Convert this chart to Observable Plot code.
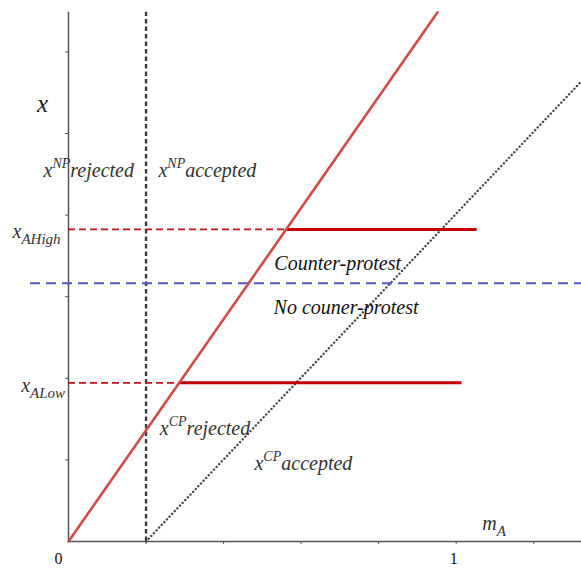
<!DOCTYPE html>
<html>
<head>
<meta charset="utf-8">
<script src="https://cdn.jsdelivr.net/npm/d3@7"></script>
<script src="https://cdn.jsdelivr.net/npm/@observablehq/plot@0.6"></script>
<style>
  html, body { margin: 0; padding: 0; background: #fff; }
  svg { display: block; }
</style>
</head>
<body>
<div id="chart"></div>
<script>
// ---- data ----
const xDomain = [-0.1754, 1.3232];      // m_A
const yDomain = [-0.076, 1.326];        // x
const axisTop = 1.297;                  // top of the x axis line
const xTicks = [0.2, 0.4, 0.6, 0.8, 1.0, 1.2];
const yTicks = [0.2, 0.4, 0.6, 0.8, 1.0, 1.2];
const tickLabels = [{m: -0.026, x: -0.043, text: "0"}, {m: 0.994, x: -0.042, text: "1"}];

const npCut = 0.2;                                      // vertical dashed line
const diagonal = [{m: 0, x: 0}, {m: 0.952, x: 1.297}];  // red solid line
const boundary = [{m: 0.2, x: 0}, {m: 1.323, x: 1.128}];// dotted line
const neutral = {x: 0.633, from: -0.098, to: 1.323};    // blue dashed line
const thresholdNames = ["AHigh", "ALow"];
const thresholdLevels = [0.765, 0.389];
const thresholdCross = [0.5615, 0.286];
const thresholdEnds = [1.054, 1.015];

const axisLabel = [{m: -0.067, x: 1.0735, text: "x"}];
const mathLabels = [
  {m: -0.0645, x: 0.909, text: "x^{NP}rejected"},
  {m: 0.232, x: 0.909, text: "x^{NP}accepted"},
  {m: -0.1444, x: 0.760, text: "x_{AHigh}"},
  {m: -0.122, x: 0.382, text: "x_{ALow}"},
  {m: 0.2355, x: 0.2757, text: "x^{CP}rejected"},
  {m: 0.4797, x: 0.191, text: "x^{CP}accepted"},
  {m: 1.067, x: 0.044, text: "m_{A}"}
];
const regionLabels = [
  {m: 0.531, x: 0.681, text: "Counter-protest"},
  {m: 0.529, x: 0.5735, text: "No couner-protest"}
];

const thresholds = thresholdNames.map((n, i) => ({
  name: n, x: thresholdLevels[i], cross: thresholdCross[i], end: thresholdEnds[i]
}));

const plot = Plot.plot({
  width: 581,
  height: 572,
  margin: 0,
  x: {domain: xDomain, axis: null},
  y: {domain: yDomain, axis: null},
  style: {background: "#fff", overflow: "visible"},
  marks: [
    // axes
    Plot.ruleX([0], {x: d => d, y1: 0, y2: axisTop, stroke: "#555", strokeWidth: 1.5}),
    Plot.ruleY([0], {y: d => d, x1: 0, x2: xDomain[1], stroke: "#555", strokeWidth: 1.5}),
    Plot.ruleX(xTicks, {x: d => d, y1: 0, y2: 0, insetBottom: -3, stroke: "#555", strokeWidth: 1}),
    Plot.ruleY(yTicks, {y: d => d, x1: 0, x2: 0, insetLeft: -3, stroke: "#555", strokeWidth: 1}),
    // vertical dashed NP cut
    Plot.ruleX([npCut], {x: d => d, y1: 0, y2: axisTop, stroke: "#3a3a3a", strokeWidth: 2.4, strokeDasharray: "4.5,3"}),
    // dotted boundary
    Plot.line(boundary, {x: "m", y: "x", stroke: "#4a4a4a", strokeWidth: 2.4, strokeDasharray: "0.1,3.7", strokeLinecap: "round"}),
    // blue dashed neutral line
    Plot.ruleY([neutral], {y: "x", x1: "from", x2: "to", stroke: "#5058cc", strokeWidth: 2, strokeDasharray: "10,6"}),
    // threshold lines: dashed part then solid part
    Plot.ruleY(thresholds, {y: "x", x1: 0, x2: "cross", stroke: "#c0101a", strokeWidth: 1.7, strokeDasharray: "7,4"}),
    Plot.ruleY(thresholds, {y: "x", x1: "cross", x2: "end", stroke: "#c00000", strokeWidth: 3}),
    // red diagonal
    Plot.line(diagonal, {x: "m", y: "x", stroke: "#d24b4b", strokeWidth: 2.6}),
    // labels
    Plot.text(axisLabel, {x: "m", y: "x", text: "text", textAnchor: "middle",
      fontFamily: "Liberation Serif", fontStyle: "italic", fontSize: 25, fill: "#222"}),
    Plot.text(mathLabels, {x: "m", y: "x", text: "text", textAnchor: "start",
      fontFamily: "Liberation Serif", fontStyle: "italic", fontSize: 20, fill: "#333"}),
    Plot.text(regionLabels, {x: "m", y: "x", text: "text", textAnchor: "start",
      fontFamily: "Liberation Serif", fontStyle: "italic", fontSize: 20, fill: "#111"}),
    Plot.text(tickLabels, {x: "m", y: "x", text: "text", textAnchor: "middle",
      fontFamily: "Liberation Serif", fontSize: 16, fill: "#111"})
  ]
});

// turn ^{..} and _{..} into real superscript / subscript tspans
d3.select(plot).selectAll("text").each(function() {
  const t = this.textContent;
  if (!/[\^_]\{/.test(t)) return;
  const parts = [];
  const re = /([\^_])\{([^}]*)\}/g;
  let last = 0, mt;
  while ((mt = re.exec(t))) {
    if (mt.index > last) parts.push({s: t.slice(last, mt.index), k: ""});
    parts.push({s: mt[2], k: mt[1]});
    last = re.lastIndex;
  }
  if (last < t.length) parts.push({s: t.slice(last), k: ""});
  const el = d3.select(this);
  el.text(null);
  let shift = 0;
  for (const p of parts) {
    const target = p.k === "^" ? -9 : p.k === "_" ? 6 : 0;
    const ts = el.append("tspan").text(p.s);
    if (target !== shift) ts.attr("dy", target - shift);
    if (p.k) ts.attr("font-size", p.k === "^" ? 14 : 15);
    shift = target;
  }
});

document.getElementById("chart").appendChild(plot);
</script>
</body>
</html>
